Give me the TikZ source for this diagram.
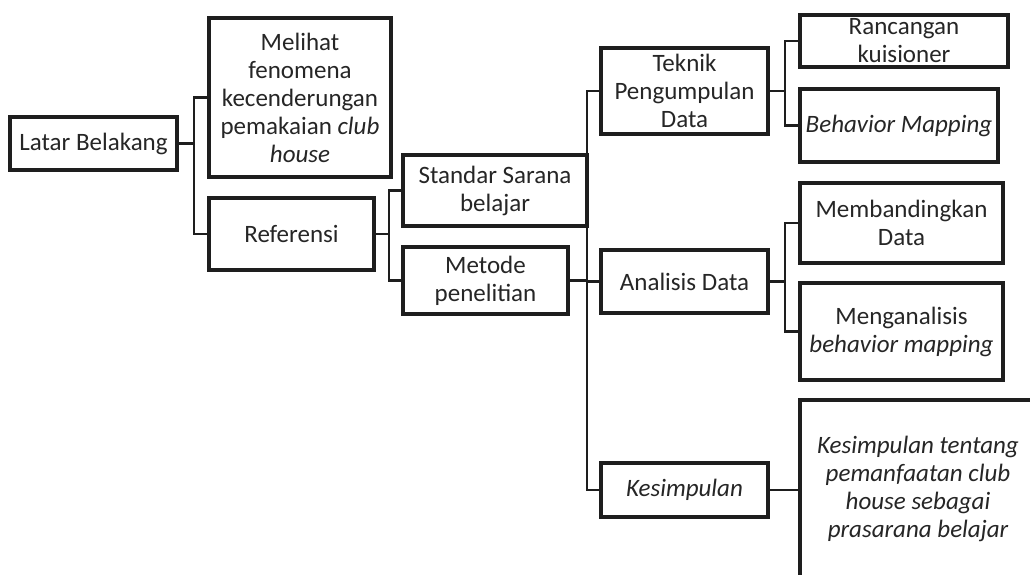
\documentclass[tikz,border=0pt]{standalone}
\usepackage{fontspec}
\setmainfont{Carlito}
\usetikzlibrary{backgrounds}
\definecolor{ink}{HTML}{1E1E1E}
\definecolor{txt}{HTML}{262626}
\begin{document}
\begin{tikzpicture}[x=1pt,y=-1pt,
  box/.style={draw=ink,line width=3.2pt,fill=white,inner sep=0pt,align=center,
    text=txt,font=\fontsize{25}{28}\selectfont},
  link/.style={draw=ink,line width=2.2pt}]
\useasboundingbox (0,0) rectangle (1030,575);
\node[box,minimum width=167,minimum height=53] (lb) at (93.5,143.5) {Latar Belakang};
\node[box,minimum width=182,minimum height=159] (mel) at (300,97.5) {Melihat\\fenomena\\kecenderungan\\pemakaian \textit{club}\\\textit{house}};
\node[box,minimum width=165,minimum height=72] (ref) at (291.5,234) {Referensi};
\node[box,minimum width=184,minimum height=71] (std) at (495,190.5) {Standar Sarana\\belajar};
\node[box,minimum width=165,minimum height=67] (met) at (485.5,280.5) {Metode\\penelitian};
\node[box,minimum width=167,minimum height=86] (tek) at (684.5,91) {Teknik\\Pengumpulan\\Data};
\node[box,minimum width=167,minimum height=63] (ana) at (684.5,281.5) {Analisis Data};
\node[box,minimum width=167,minimum height=54] (kes) at (684.5,490) {\textit{Kesimpulan}};
\node[box,minimum width=208,minimum height=52] (ran) at (904,41) {Rancangan\\kuisioner};
\node[box,minimum width=198,minimum height=73] (beh) at (899,125.5) {\textit{Behavior Mapping}};
\node[box,minimum width=203,minimum height=80] (mem) at (901.5,223) {Membandingkan\\Data};
\node[box,minimum width=203,minimum height=97] (meng) at (901.5,331.5) {Menganalisis\\\textit{behavior mapping}};
\node[box,minimum width=236,minimum height=180] (kt) at (918,490) {\raisebox{7pt}{\begin{tabular}{@{}c@{}}\itshape Kesimpulan tentang\\\itshape pemanfaatan club\\\itshape house sebagai\\\itshape prasarana belajar\end{tabular}}};
\begin{scope}[on background layer]
\draw[link] (lb.east) -- ++(15,0) coordinate (j1);
\draw[link] (j1) |- (mel.west);
\draw[link] (j1) |- (ref.west);
\draw[link] (ref.east) -- ++(13,0) coordinate (j2);
\draw[link] (j2) |- (std.west);
\draw[link] (j2) |- (met.west);
\draw[link] (met.east) -- ++(17,0) coordinate (j3);
\draw[link] (j3) |- (tek.west);
\draw[link] (j3) |- (ana.west);
\draw[link] (j3) |- (kes.west);
\draw[link] (tek.east) -- ++(15,0) coordinate (j4);
\draw[link] (j4) |- (ran.west);
\draw[link] (j4) |- (beh.west);
\draw[link] (ana.east) -- ++(15,0) coordinate (j5);
\draw[link] (j5) |- (mem.west);
\draw[link] (j5) |- (meng.west);
\draw[link] (kes.east) -- (kes.east -| kt.west);
\end{scope}
\end{tikzpicture}
\end{document}
